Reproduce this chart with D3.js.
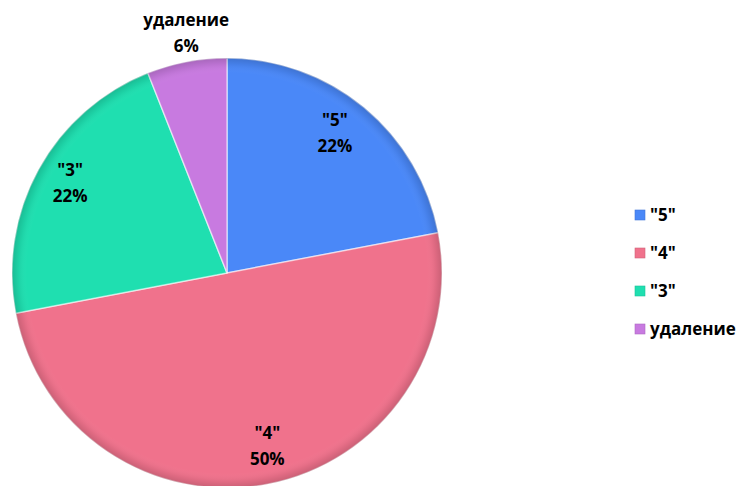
<!DOCTYPE html>
<html><head><meta charset="utf-8">
<script src="https://cdn.jsdelivr.net/npm/d3@7"></script>
<style>body{margin:0;background:#fff}svg{display:block}</style>
</head><body>
<svg id="c" width="737" height="486"></svg>
<script>
const categories = ['"5"', '"4"', '"3"', 'удаление'];
const values = [22, 50, 22, 6];
const percentLabels = ['22%', '50%', '22%', '6%'];
const colors = ['#4a88f8', '#f0728c', '#1fdfb0', '#c87ae0'];

const W = 737, H = 486, cx = 227, cy = 273, R = 215;
const svg = d3.select('#c');
const defs = svg.append('defs');

const rg = defs.append('radialGradient').attr('id','shade').attr('cx','50%').attr('cy','50%').attr('r','50%');
rg.append('stop').attr('offset','0%').attr('stop-color','#fff').attr('stop-opacity',0);
rg.append('stop').attr('offset','93%').attr('stop-color','#fff').attr('stop-opacity',0);
rg.append('stop').attr('offset','97%').attr('stop-color','#000').attr('stop-opacity',0.06);
rg.append('stop').attr('offset','100%').attr('stop-color','#000').attr('stop-opacity',0.16);

const pie = d3.pie().sort(null).value(d => d)(values);
const arc = d3.arc().innerRadius(0).outerRadius(R);
const g = svg.append('g').attr('transform', `translate(${cx},${cy})`);

g.selectAll('path.s').data(pie).join('path').attr('class','s')
  .attr('d', arc).attr('fill', (d,i) => colors[i])
  .attr('stroke', 'rgba(255,255,255,0.55)').attr('stroke-width', 1.5).attr('stroke-linejoin','round');
g.append('circle').attr('r', R).attr('fill', 'url(#shade)').attr('pointer-events','none');

const labelR = [177, 178, 181, 243];
const angleNudge = [-0.035, -0.04, 0.02, 0.02];
const font = '"Open Sans", "DejaVu Sans", sans-serif';
pie.forEach((d, i) => {
  const a = (d.startAngle + d.endAngle) / 2 + angleNudge[i];
  const x = Math.sin(a) * labelR[i], y = -Math.cos(a) * labelR[i];
  const t = g.append('text').attr('text-anchor','middle').attr('font-family', font)
    .attr('font-weight', 700).attr('font-size', 17).attr('fill', '#000');
  t.append('tspan').attr('x', x).attr('y', y - 7).text(categories[i]);
  t.append('tspan').attr('x', x).attr('y', y + 19).text(percentLabels[i]);
});

const ly = d3.scalePoint().domain(categories).range([215, 329]);
const lg = svg.append('g');
categories.forEach((c, i) => {
  lg.append('rect').attr('x', 635).attr('y', ly(c) - 5).attr('width', 10).attr('height', 10)
    .attr('fill', colors[i]).attr('stroke', d3.color(colors[i]).darker(0.4)).attr('stroke-width', 0.6);
  lg.append('text').attr('x', 650).attr('y', ly(c) + 6).attr('font-family', font)
    .attr('font-weight', 700).attr('font-size', 17).text(c);
});
</script>
</body></html>
